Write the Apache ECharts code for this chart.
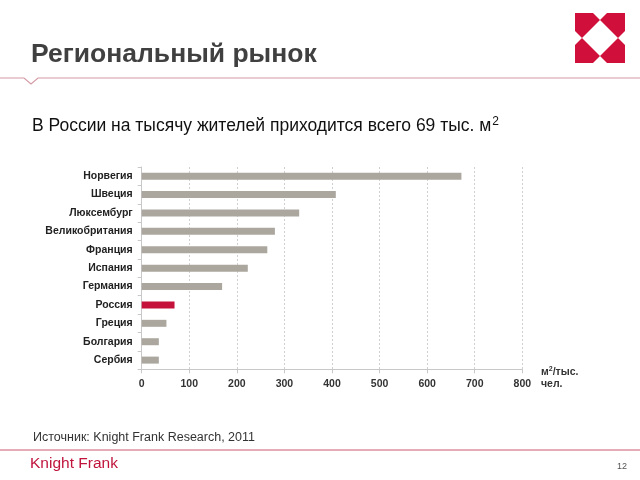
<!DOCTYPE html>
<html>
<head>
<meta charset="utf-8">
<script src="https://cdn.jsdelivr.net/npm/echarts@6/dist/echarts.min.js"></script>
<style>
html,body{margin:0;padding:0;background:#fff;}
#chart{width:640px;height:480px;}
</style>
</head>
<body>
<div id="chart"></div>
<script>
const countries = ['Норвегия','Швеция','Люксембург','Великобритания','Франция','Испания','Германия','Россия','Греция','Болгария','Сербия'];
const values = [672, 408, 331, 280, 264, 223, 169, 69, 52, 36, 36];
const highlight = 'Россия';
const xTicks = [0,100,200,300,400,500,600,700,800];

const GRAY = '#aba79f';
const RED = '#c5123a';

const chart = echarts.init(document.getElementById('chart'), null, {renderer:'canvas'});

const logoPieces = [
  [[575,13],[593,13],[600,20],[582,38],[575,31]],
  [[607,13],[625,13],[625,31],[618,38],[600,20]],
  [[575,45],[582,38],[600,56],[593,63],[575,63]],
  [[618,38],[625,45],[625,63],[607,63],[600,56]]
];

const option = {
  animation: false,
  grid: {left:141.7, right:640-522.3, top:167, bottom:480-369.3, containLabel:false},
  xAxis: {
    type:'value', min:0, max:800, interval:100,
    axisLine:{show:true, lineStyle:{color:'#c8c8c8', width:1}},
    axisTick:{show:true, length:4, lineStyle:{color:'#c8c8c8'}},
    axisLabel:{show:true, margin:9, color:'#333', fontWeight:'bold', fontSize:10.5, fontFamily:'Liberation Sans, Arial, sans-serif',
      formatter: v => xTicks.includes(v) ? String(v) : ''},
    splitLine:{show:true, lineStyle:{color:'#d0d0d0', type:[2,2], width:1}}
  },
  yAxis: {
    type:'category', data:countries, inverse:true,
    axisLine:{show:true, lineStyle:{color:'#c8c8c8', width:1}},
    axisTick:{show:true, length:4, lineStyle:{color:'#c8c8c8'}},
    axisLabel:{margin:9, color:'#222', fontWeight:'bold', fontSize:10.5, fontFamily:'Liberation Sans, Arial, sans-serif'},
    splitLine:{show:false}
  },
  series: [{
    type:'bar',
    barWidth:7,
    data: values.map((v,i)=>({value:v, itemStyle:{color: countries[i]===highlight ? RED : GRAY}})),
    silent:true
  }],
  graphic: [
    {type:'text', left:31, top:41, style:{text:'Региональный рынок', fill:'#404040', font:'bold 26.5px "Liberation Sans", Arial, sans-serif'}},
    {type:'polyline', shape:{points:[[0,78],[24,78],[31,84],[38,78],[640,78]]}, style:{stroke:'#d49aa5', lineWidth:1.2, fill:null}},
    ...logoPieces.map(p => ({type:'polygon', shape:{points:p}, style:{fill:'#d0103a'}})),
    {type:'text', left:32, top:116, style:{
      rich:{n:{font:'17.5px "Liberation Sans", Arial, sans-serif', fill:'#111'}, s:{font:'12px "Liberation Sans", Arial, sans-serif', fill:'#111', verticalAlign:'top', padding:[0,0,9,1]}},
      text:'{n|В России на тысячу жителей приходится всего 69 тыс. м}{s|2}'}},
    {type:'text', left:541, top:366, style:{
      rich:{b:{font:'bold 10.5px "Liberation Sans", Arial, sans-serif', fill:'#333'}, s:{font:'bold 7px "Liberation Sans", Arial, sans-serif', fill:'#333', padding:[0,0,5,0]}},
      text:'{b|м}{s|2}{b|/тыс.}\n{b|чел.}', lineHeight:12}},
    {type:'text', left:33, top:431, style:{text:'Источник: Knight Frank Research, 2011', fill:'#333', font:'12.5px "Liberation Sans", Arial, sans-serif'}},
    {type:'line', shape:{x1:0, y1:450, x2:640, y2:450}, style:{stroke:'#cc5a72', lineWidth:1}},
    {type:'text', left:30, top:456, style:{text:'Knight Frank', fill:'#c0143c', font:'15.5px "Liberation Sans Narrow", "Arial Narrow", sans-serif'}},
    {type:'text', left:617, top:462, style:{text:'12', fill:'#555', font:'9px "Liberation Sans", Arial, sans-serif'}}
  ]
};
chart.setOption(option);
</script>
</body>
</html>
